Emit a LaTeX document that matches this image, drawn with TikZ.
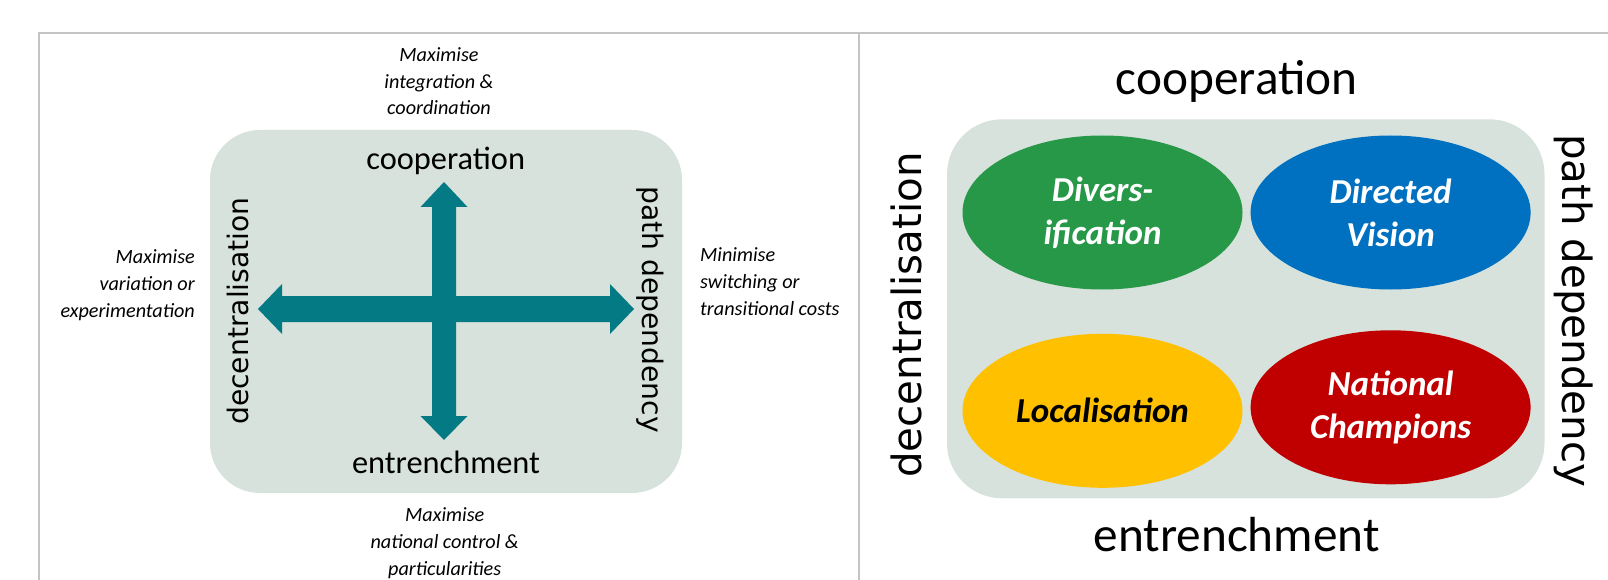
\documentclass[tikz,border=0pt]{standalone}
\usepackage{fontspec}
\usepackage{tikz}
\usetikzlibrary{shapes.geometric}
\newfontfamily\calibri{Carlito}
\newfontfamily\verdana{DejaVu Sans}
\definecolor{framegray}{RGB}{196,196,196}
\definecolor{panelgray}{RGB}{215,226,220}
\definecolor{crossteal}{RGB}{3,122,132}
\definecolor{divgreen}{RGB}{38,152,72}
\definecolor{dirblue}{RGB}{0,112,192}
\definecolor{locyellow}{RGB}{255,192,0}
\definecolor{natred}{RGB}{192,0,0}
\tikzset{
	frame/.style={draw=framegray, line width=2pt},
	panel/.style={fill=panelgray, inner sep=0pt},
	axissmall/.style={font=\calibri\fontsize{32.4}{36}\selectfont, inner sep=0pt},
	axisbig/.style={font=\calibri\fontsize{49.3}{54}\selectfont, inner sep=0pt},
	sidesmall/.style={font=\verdana\fontsize{28.2}{32}\selectfont, inner sep=0pt},
	sidebig/.style={font=\verdana\fontsize{40.3}{46}\selectfont, inner sep=0pt},
	note/.style={font=\calibri\itshape\fontsize{20.2}{26.8}\selectfont, inner sep=0pt},
	blob/.style={ellipse, minimum width=280pt, minimum height=154pt, inner sep=0pt, align=center,
		font=\calibri\bfseries\itshape\fontsize{35}{43.3}\selectfont},
}

\begin{document}
\begin{tikzpicture}[x=1pt,y=-1pt]
	\useasboundingbox (0,0) rectangle (1608,580);
	\draw[frame] (39,580) -- (39,33) -- (1608,33);
	\draw[frame] (859,33) -- (859,580);

	% left: the four directions
	\node[panel, rounded corners=50pt, minimum width=472pt, minimum height=363pt] (lpanel) at (446,311.5) {};
	\fill[crossteal] (258,309) -- (282,284) -- (282,296) -- (610,296) -- (610,284) -- (634,309)
		-- (610,334) -- (610,322) -- (282,322) -- (282,334) -- cycle;
	\fill[crossteal] (444,182) -- (467.5,207) -- (456,207) -- (456,416) -- (467.5,416) -- (444,440)
		-- (420.5,416) -- (432,416) -- (432,207) -- (420.5,207) -- cycle;
	\node[axissmall, anchor=base] (lcoop) at (445.7,170) {cooperation};
	\node[axissmall, anchor=base] (lentr) at (446,473) {entrenchment};
	\node[sidesmall, rotate=90] (ldec) at (237.5,311) {decentralisation};
	\node[sidesmall, rotate=-90] (lpath) at (650,309.5) {path dependency};
	% anchor=base sits on the last line here
	\node[note, align=center, anchor=base] (ntop) at (439,115) {Maximise\\integration \&\\coordination};
	\node[note, align=right, anchor=base east] (nleft) at (195,317) {Maximise\\variation or\\experimentation};
	\node[note, align=left, anchor=base west] (nright) at (700,315) {Minimise\\switching or\\transitional costs};
	\node[note, align=center, anchor=base] (nbot) at (444.7,575) {Maximise\\national control \&\\particularities};

	% right: the four strategies
	\node[panel, rounded corners=55pt, minimum width=597.5pt, minimum height=379pt] (rpanel) at (1245.75,308.8) {};
	\node[blob, fill=divgreen, text=white] (div) at (1102.5,212.5) {Divers-\\ification};
	\node[blob, fill=dirblue, text=white] (dir) at (1390.6,212.5) {Directed\\Vision};
	\node[blob, fill=locyellow, text=black] (loc) at (1102.5,410.8) {Localisation};
	\node[blob, fill=natred, text=white] (nat) at (1390.6,407.3) {National\\Champions};
	\node[axisbig, anchor=base] (rcoop) at (1236.7,95) {cooperation};
	\node[axisbig, anchor=base] (rentr) at (1236.6,551.7) {entrenchment};
	\node[sidebig, rotate=90] (rdec) at (906.8,315) {decentralisation};
	\node[sidebig, rotate=-90] (rpath) at (1574,310.7) {path dependency};
\end{tikzpicture}
\end{document}
